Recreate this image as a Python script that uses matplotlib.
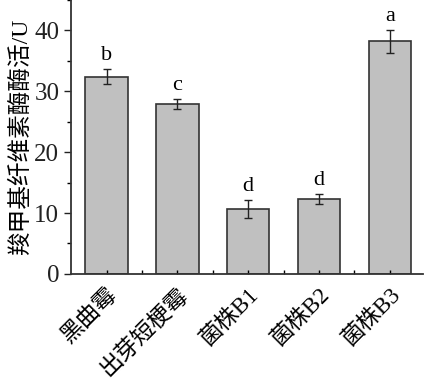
import numpy as np
import matplotlib.pyplot as plt
from matplotlib.ticker import MultipleLocator

plt.rcParams['font.family'] = ['Liberation Serif', 'Noto Sans CJK SC']

# data
strains = ['黑曲霉', '出芽短梗霉', '菌株B1', '菌株B2', '菌株B3']
activity = [32.4, 27.9, 10.7, 12.3, 38.2]
errors = [1.2, 0.8, 1.45, 0.8, 1.9]
letters = ['b', 'c', 'd', 'd', 'a']

fig = plt.figure(figsize=(4.26, 3.82), dpi=100)
ax = fig.add_axes([0.167, 0.283, 0.826, 0.717])

x = np.arange(len(strains))
ax.bar(x, activity, width=0.6, color='#c0c0c0', edgecolor='#333333', linewidth=1.2,
       yerr=errors, error_kw=dict(ecolor='#222222', elinewidth=1.0, capsize=3, capthick=1.0))

for xi, v, e, lab in zip(x, activity, errors, letters):
    ax.text(xi, v + e + 0.7, lab, ha='center', va='bottom', fontsize=16)

ax.set_xlim(-0.5, 4.47)
ax.set_ylim(0, 45)
ax.set_yticks([0, 10, 20, 30, 40])
ax.yaxis.set_minor_locator(MultipleLocator(5))
ax.set_xticks(x)
ax.set_xticks(x[:-1] + 0.5, minor=True)
ax.set_xticklabels(strains, rotation=45, ha='right', rotation_mode='anchor', fontsize=16.5)
ax.tick_params(axis='y', which='major', direction='out', length=5, width=1.0, labelsize=18, colors='#222222')
ax.tick_params(axis='y', which='minor', direction='out', length=3, width=1.0)
ax.tick_params(axis='x', which='both', direction='in', length=3, width=1.0, pad=7)
ax.set_ylabel('羧甲基纤维素酶酶活/U', fontsize=17, labelpad=2)

for s in ['top', 'right']:
    ax.spines[s].set_visible(False)
for s in ['left', 'bottom']:
    ax.spines[s].set_linewidth(1.3)
    ax.spines[s].set_color('#333333')

fig.savefig('out.png', dpi=100)
